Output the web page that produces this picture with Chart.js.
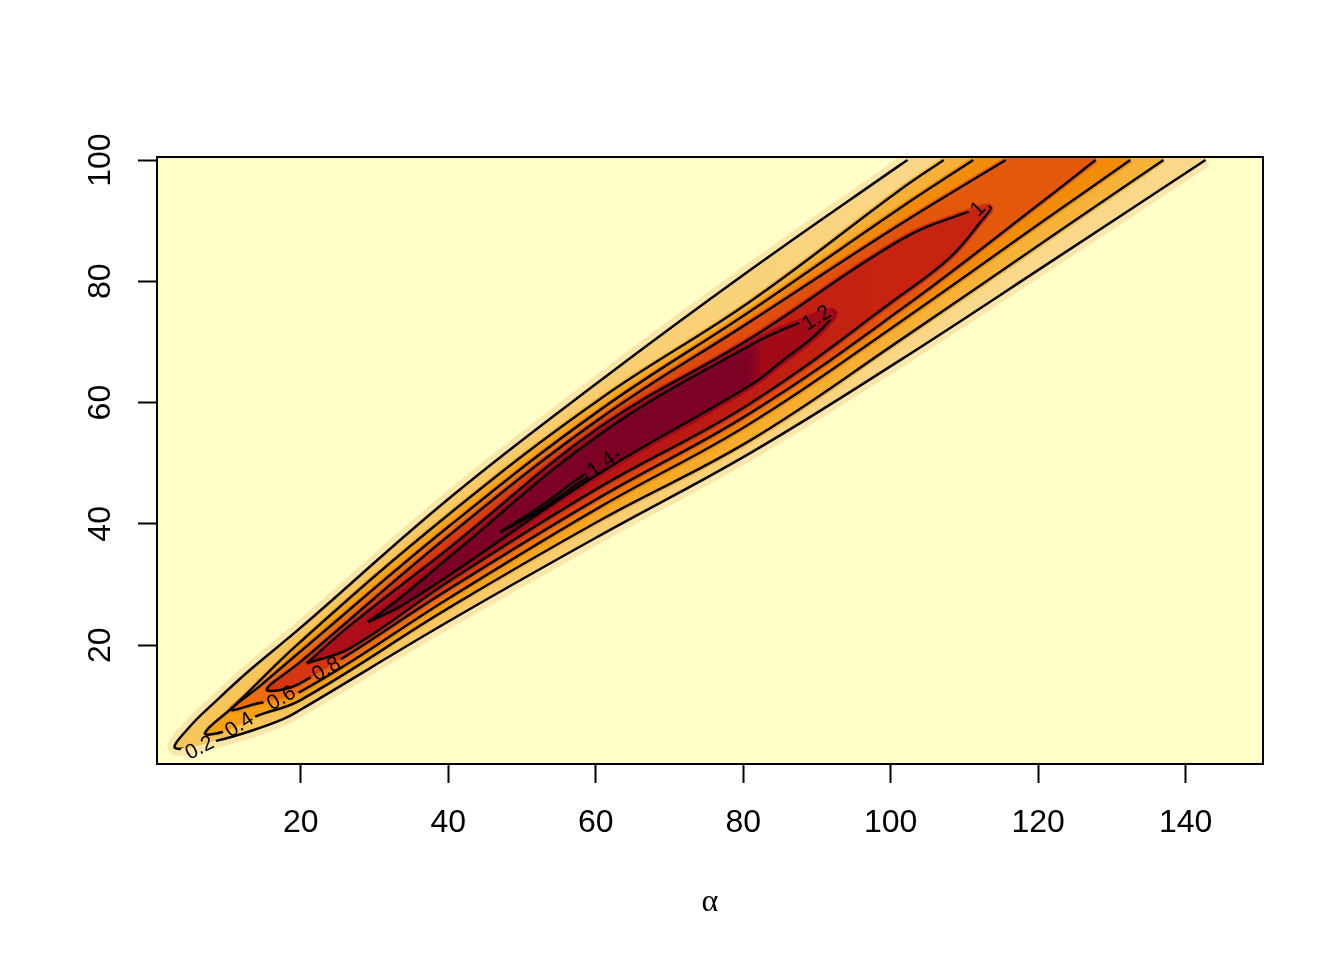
<!DOCTYPE html>
<html>
<head>
<meta charset="utf-8">
<title>Contour density</title>
<script src="https://cdn.jsdelivr.net/npm/chart.js@4.4.1/dist/chart.umd.min.js"></script>
<style>
    html, body { margin: 0; padding: 0; background: #ffffff; }
    #wrap { width: 1344px; height: 960px; }
</style>
</head>
<body>
<div id="wrap"><canvas id="densityPlot" width="1344" height="960"></canvas></div>
<script>
// axis ticks
var xTicks = [20, 40, 60, 80, 100, 120, 140];
var yTicks = [20, 40, 60, 80, 100];

// contour levels, each contour as [alpha, y] pairs
var levels = [0.2, 0.4, 0.6, 0.8, 1, 1.2, 1.4];
var contour02 = [[102.3,100],[101.3,99.2],[81.0,81.9],[60.6,63.6],[40.3,44.4],[19.9,22.8],[13.1,15.9],[8.6,10.9],[4.9,6.5],[3.0,3.0],[8.8,4.3],[13.1,5.8],[17.6,7.8],[19.9,9.3],[40.3,24.1],[60.6,38.1],[81.0,51.7],[101.3,67.0],[121.7,83.2],[142.7,100]];
var contour04 = [[107.2,100],[101.3,95.1],[81.0,76.7],[60.6,60.6],[40.3,41.8],[19.9,20.5],[10.8,9.8],[7.0,5.5],[9.7,5.8],[14.0,8.3],[19.9,10.9],[40.3,26.3],[60.6,40.6],[81.0,53.8],[101.3,70.3],[121.7,87.3],[137.0,100]];
var contour06 = [[111.2,100],[101.3,92.1],[81.0,75.1],[60.6,58.8],[40.3,39.8],[19.9,18.9],[14.4,13.2],[10.6,9.4],[13.8,10.3],[19.9,12.3],[40.3,27.9],[60.6,42.8],[81.0,56.6],[101.3,73.3],[121.7,90.8],[132.5,100]];
var contour08 = [[115.6,100],[101.3,89.4],[81.0,73.4],[60.6,57.4],[40.3,38.3],[19.9,17.2],[15.4,12.7],[19.9,13.7],[40.3,29.4],[60.6,44.4],[81.0,58.3],[101.3,75.3],[121.7,94.2],[127.8,100]];
var contour10 = [[20.8,17.0],[26.7,23.3],[40.3,36.2],[60.6,56.0],[81.0,70.6],[101.3,86.8],[110.4,91.4],[113.5,92.2],[112.2,89.8],[108.1,84.0],[101.3,77.6],[81.0,59.9],[60.6,46.1],[40.3,30.7],[26.7,19.5],[20.8,17.0]];
var contour12 = [[29.1,23.8],[33.5,27.8],[40.3,34.7],[60.6,54.8],[81.0,69.5],[87.5,73.1],[92.2,74.9],[90.1,71.5],[85.4,67.0],[81.0,62.9],[60.6,48.4],[40.3,31.7],[33.5,26.4],[29.1,23.8]];
var contour14 = [[47.0,38.6],[52.5,42.9],[57.9,47.7],[61.3,50.2],[63.0,51.4],[61.3,49.4],[57.9,46.9],[52.5,42.3],[47.0,38.6]];
var contours = [contour02, contour04, contour06, contour08, contour10, contour12, contour14];

// where the darkest cells stop along the ridge
var darkCoreEnd = 80.5;

// contour labels
var labelText = ['0.2', '0.4', '0.6', '0.8', '1', '1.2', '1.4'];
var labelX = [6.3, 11.7, 17.4, 23.5, 111.9, 90.0, 60.8];
var labelY = [3.0, 6.8, 11.2, 16.0, 91.9, 73.9, 49.7];

// styles
var X_MIN = 0.5, X_MAX = 150.5, Y_MIN = 0.4, Y_MAX = 100.5;
var bgColor = '#FFFFC8';
var edgeColors = ['#FBE7A8', '#F7BC48', '#F39008', '#E8620C', '#D0300F', '#A6081A', '#7D0025'];
var edgeWidths = [14, 6, 6, 6, 6, 8, 0];
var labelAngle = [-27, -33, -30, -30, -45, -32, -35];
var labelFont = '21px "Liberation Sans", Arial, sans-serif';
var curve = 0.4;

// horizontal colour ramp across the plot, lower-left shade to upper-right shade
function ramp(c0, c1, a0, a1) {
    return function (context) {
        var chart = context.chart;
        var area = chart.chartArea;
        if (!area || !chart.scales.x) {
            return c0;
        }
        var xs = chart.scales.x;
        var g = chart.ctx.createLinearGradient(xs.getPixelForValue(a0), 0, xs.getPixelForValue(a1), 0);
        g.addColorStop(0, c0);
        g.addColorStop(1, c1);
        return g;
    };
}

function coreGradient(context) {
    var chart = context.chart;
    var area = chart.chartArea;
    if (!area || !chart.scales.x) {
        return '#7D0025';
    }
    var cut = chart.scales.x.getPixelForValue(darkCoreEnd);
    var g = chart.ctx.createLinearGradient(area.left, 0, area.right, 0);
    var f = (cut - area.left) / (area.right - area.left);
    g.addColorStop(0, '#7D0025');
    g.addColorStop(f, '#7D0025');
    g.addColorStop(f + 0.015, '#A20A18');
    g.addColorStop(1, '#A20A18');
    return g;
}

var fillColors = [
    ramp('#F8C55A', '#FAD88A', 20, 110),
    ramp('#F5A012', '#F7B23A', 20, 110),
    ramp('#EC6C0B', '#F28C08', 20, 110),
    ramp('#D5360F', '#E4580C', 30, 110),
    ramp('#AE0E18', '#C62410', 40, 100),
    coreGradient,
    '#7D0025'
];

function toPoints(arr) {
    return arr.map(function (p) { return { x: p[0], y: p[1] }; });
}

var datasets = [];

contours.forEach(function (c, i) {
    var pts = toPoints(c);
    var first = c[0];
    var last = c[c.length - 1];
    var fillPts = pts.slice();
    // open contours run off the top of the grid: close them along the top edge
    if (first[0] !== last[0] || first[1] !== last[1]) {
        fillPts.push({ x: last[0], y: Y_MAX });
        fillPts.push({ x: first[0], y: Y_MAX });
    }
    if (edgeWidths[i] > 0) {
        datasets.push({
            label: 'edge ' + levels[i],
            data: pts,
            showLine: true,
            borderColor: edgeColors[i],
            borderWidth: edgeWidths[i],
            pointRadius: 0,
            fill: false,
            tension: curve,
            clip: 0
        });
    }
    datasets.push({
        label: 'fill ' + levels[i],
        data: fillPts,
        showLine: true,
        borderWidth: 0,
        borderColor: 'rgba(0,0,0,0)',
        backgroundColor: fillColors[i],
        fill: 'shape',
        pointRadius: 0,
        tension: curve,
        clip: 0
    });
});

var contourStart = datasets.length;
contours.forEach(function (c, i) {
    datasets.push({
        label: 'contour ' + levels[i],
        data: toPoints(c),
        showLine: true,
        borderColor: '#000000',
        borderWidth: 2.5,
        pointRadius: 0,
        fill: false,
        tension: curve,
        clip: 0
    });
});

// first pushed is drawn first (at the bottom)
var n = datasets.length;
datasets.forEach(function (d, i) { d.order = n - i; });

function labelCorners(chart, i) {
    var ctx = chart.ctx;
    ctx.save();
    ctx.font = labelFont;
    var w = ctx.measureText(labelText[i]).width + 6;
    ctx.restore();
    var h = 16;
    var cx = chart.scales.x.getPixelForValue(labelX[i]);
    var cy = chart.scales.y.getPixelForValue(labelY[i]);
    var t = labelAngle[i] * Math.PI / 180;
    var c = Math.cos(t), s = Math.sin(t);
    return [[-w / 2, -h / 2], [w / 2, -h / 2], [w / 2, h / 2], [-w / 2, h / 2]].map(function (p) {
        return [cx + p[0] * c - p[1] * s, cy + p[0] * s + p[1] * c];
    });
}

var decorPlugin = {
    id: 'decor',
    beforeDatasetsDraw: function (chart) {
        var a = chart.chartArea;
        var ctx = chart.ctx;
        ctx.save();
        ctx.fillStyle = bgColor;
        ctx.fillRect(a.left, a.top, a.right - a.left, a.bottom - a.top);
        ctx.restore();
    },
    // leave a gap in each contour line where its label goes
    beforeDatasetDraw: function (chart, args) {
        var k = args.index - contourStart;
        if (k < 0) return;
        var ctx = chart.ctx;
        var pts = labelCorners(chart, k);
        ctx.save();
        ctx.beginPath();
        ctx.rect(0, 0, chart.width, chart.height);
        ctx.moveTo(pts[0][0], pts[0][1]);
        for (var j = 1; j < pts.length; j++) ctx.lineTo(pts[j][0], pts[j][1]);
        ctx.closePath();
        ctx.clip('evenodd');
    },
    afterDatasetDraw: function (chart, args) {
        if (args.index - contourStart < 0) return;
        chart.ctx.restore();
    },
    afterDatasetsDraw: function (chart) {
        var a = chart.chartArea;
        var ctx = chart.ctx;
        var xs = chart.scales.x;
        var ys = chart.scales.y;

        // contour labels
        ctx.save();
        ctx.fillStyle = '#000000';
        ctx.font = labelFont;
        ctx.textAlign = 'center';
        ctx.textBaseline = 'middle';
        for (var i = 0; i < labelText.length; i++) {
            ctx.save();
            ctx.translate(xs.getPixelForValue(labelX[i]), ys.getPixelForValue(labelY[i]));
            ctx.rotate(labelAngle[i] * Math.PI / 180);
            ctx.fillText(labelText[i], 0, 0);
            ctx.restore();
        }
        ctx.restore();

        // box round the plot
        ctx.save();
        ctx.strokeStyle = '#000000';
        ctx.lineWidth = 2;
        ctx.strokeRect(a.left, a.top, a.right - a.left, a.bottom - a.top);
        ctx.restore();
    },
    afterDraw: function (chart) {
        var ys = chart.scales.y;
        var ctx = chart.ctx;
        ctx.save();
        ctx.fillStyle = '#000000';
        ctx.font = '32px "Liberation Sans", Arial, sans-serif';
        ctx.textAlign = 'center';
        ctx.textBaseline = 'middle';
        yTicks.forEach(function (v) {
            ctx.save();
            ctx.translate(101, ys.getPixelForValue(v));
            ctx.rotate(-Math.PI / 2);
            ctx.fillText(String(v), 0, 0);
            ctx.restore();
        });
        ctx.restore();
    }
};

var ctx = document.getElementById('densityPlot').getContext('2d');
new Chart(ctx, {
    type: 'scatter',
    data: { datasets: datasets },
    options: {
        responsive: false,
        animation: false,
        events: [],
        layout: { padding: { left: 0, top: 157, right: 81, bottom: 0 } },
        plugins: {
            legend: { display: false },
            tooltip: { enabled: false }
        },
        scales: {
            x: {
                type: 'linear',
                min: X_MIN,
                max: X_MAX,
                afterBuildTicks: function (scale) {
                    scale.ticks = xTicks.map(function (v) { return { value: v }; });
                },
                afterFit: function (scale) { scale.height = 196; },
                border: { display: false },
                grid: { drawOnChartArea: false, drawTicks: true, tickLength: 19, tickWidth: 2, color: '#000000' },
                ticks: {
                    color: '#000000',
                    font: { family: '"Liberation Sans", Arial, sans-serif', size: 32 },
                    padding: 21,
                    maxRotation: 0,
                    autoSkip: false
                },
                title: {
                    display: true,
                    text: 'α',
                    color: '#000000',
                    font: { family: '"Liberation Serif", "Times New Roman", serif', size: 32 },
                    padding: { top: 0, bottom: 38 }
                }
            },
            y: {
                type: 'linear',
                min: Y_MIN,
                max: Y_MAX,
                afterBuildTicks: function (scale) {
                    scale.ticks = yTicks.map(function (v) { return { value: v }; });
                },
                afterFit: function (scale) { scale.width = 157; },
                border: { display: false },
                grid: { drawOnChartArea: false, drawTicks: true, tickLength: 19, tickWidth: 2, color: '#000000' },
                ticks: { display: false }
            }
        }
    },
    plugins: [decorPlugin]
});
</script>
</body>
</html>
